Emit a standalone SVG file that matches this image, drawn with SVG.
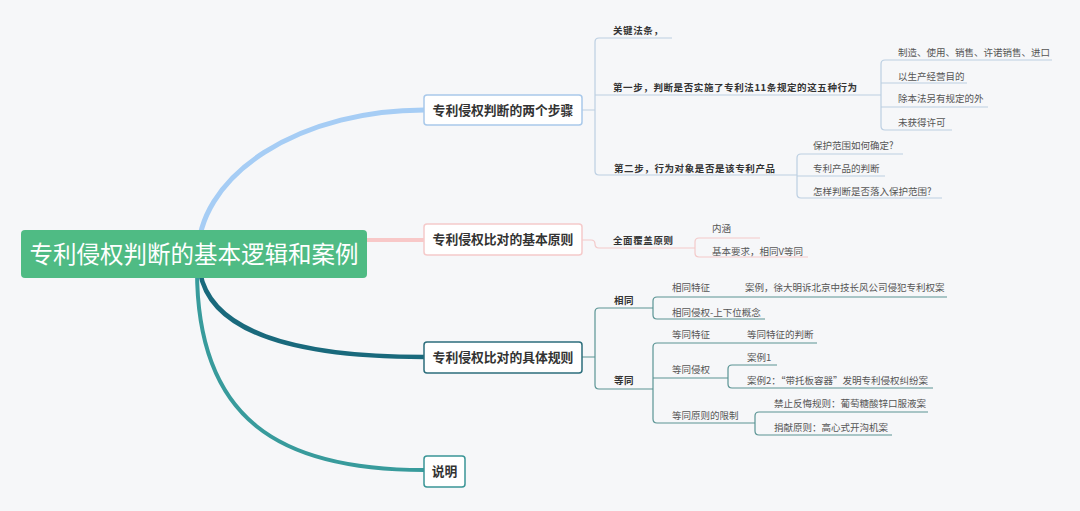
<svg xmlns="http://www.w3.org/2000/svg" width="1080" height="511" viewBox="0 0 1080 511">
<style>
.t2{font-family:"Noto Sans CJK SC","Noto Sans",sans-serif;font-size:9.5px;font-weight:bold;fill:#333;letter-spacing:0.6px}
.t3{font-family:"Noto Sans CJK SC","Noto Sans",sans-serif;font-size:9.5px;fill:#555}
.tb{font-family:"Noto Sans CJK SC","Noto Sans",sans-serif;font-size:12.8px;font-weight:bold;fill:#333;text-anchor:middle}
.c1{fill:none;stroke:#bccfe2;stroke-width:1.2}
.c2{fill:none;stroke:#f3caca;stroke-width:1.2}
.c3{fill:none;stroke:#5a9494;stroke-width:1.2}
</style>
<rect width="1080" height="511" fill="#f6f7f9"/>
<g id="connectors">
<path d="M198,255 A226,145 0 0 1 424,110" fill="none" stroke="#a6cdf5" stroke-width="5"/>
<path d="M360,240 H424" fill="none" stroke="#f8c8c8" stroke-width="4"/>
<path d="M200,272 C210,330 290,357 424,357" fill="none" stroke="#19697c" stroke-width="4.5"/>
<path d="M197,270 C197,420 280,470 424,470" fill="none" stroke="#389b9c" stroke-width="4"/>
<!-- branch 1 -->
<path class="c1" d="M582,110 H595 M672,38 H599 Q595,38 595,42 V171 Q595,175 599,175 H797 M595,95 H881"/>
<path class="c1" d="M1052,60 H885 Q881,60 881,64 V126 Q881,130 885,130 H952 M881,83 H967 M881,107 H988"/>
<path class="c1" d="M903,154 H801 Q797,154 797,158 V194 Q797,198 801,198 H942 M797,176 H885"/>
<!-- branch 2 -->
<path class="c2" d="M582,240 H591 Q595,240 595,244 Q595,248 599,248 H695"/>
<path class="c2" d="M760,238 H699 Q695,238 695,242 V253 Q695,257 699,257 H808"/>
<!-- branch 3 -->
<path class="c3" d="M582,357 H595 M653,308 H599 Q595,308 595,312 V385 Q595,389 599,389 H653"/>
<path class="c3" d="M947,297 H657 Q653,297 653,301 V315 Q653,319 657,319 H765"/>
<path class="c3" d="M817,343 H657 Q653,343 653,347 V419 Q653,423 657,423 H755 M653,378 H728"/>
<path class="c3" d="M777,365 H732 Q728,365 728,369 V384 Q728,388 732,388 H933"/>
<path class="c3" d="M928,412 H759 Q755,412 755,416 V431 Q755,435 759,435 H892"/>
</g>
<g id="root">
<rect x="21" y="230" width="346" height="48" rx="4" fill="#4fbb84"/>
<text x="194" y="263" font-family="Noto Sans CJK SC, Noto Sans, sans-serif" font-size="23.5" fill="#ffffff" text-anchor="middle">专利侵权判断的基本逻辑和案例</text>
</g>
<g id="b1">
<rect x="424" y="95" width="158" height="30" rx="3" fill="#ffffff" stroke="#a9c9ea" stroke-width="1.5"/>
<text class="tb" x="503" y="115">专利侵权判断的两个步骤</text>
</g>
<g id="b2">
<rect x="424" y="224" width="158" height="31" rx="3" fill="#ffffff" stroke="#f5caca" stroke-width="1.5"/>
<text class="tb" x="503" y="244">专利侵权比对的基本原则</text>
</g>
<g id="b3">
<rect x="424" y="342" width="158" height="31" rx="3" fill="#ffffff" stroke="#2c6e7c" stroke-width="1.5"/>
<text class="tb" x="503" y="362">专利侵权比对的具体规则</text>
</g>
<g id="b4">
<rect x="424" y="456" width="41" height="31" rx="3" fill="#ffffff" stroke="#3a9596" stroke-width="1.5"/>
<text class="tb" x="444.5" y="476">说明</text>
</g>
<g id="n-b1">
<text class="t2" x="613" y="34">关键法条，</text>
<text class="t2" x="613" y="91">第一步，判断是否实施了专利法11条规定的这五种行为</text>
<text class="t2" x="614" y="172">第二步，行为对象是否是该专利产品</text>
<text class="t3" x="898" y="55.5">制造、使用、销售、许诺销售、进口</text>
<text class="t3" x="898" y="79.5">以生产经营目的</text>
<text class="t3" x="898" y="101.5">除本法另有规定的外</text>
<text class="t3" x="898" y="125.5">未获得许可</text>
<text class="t3" x="813" y="148.5">保护范围如何确定?</text>
<text class="t3" x="813" y="171.5">专利产品的判断</text>
<text class="t3" x="813" y="194.5">怎样判断是否落入保护范围?</text>
</g>
<g id="n-b2">
<text class="t2" x="613" y="243.5">全面覆盖原则</text>
<text class="t3" x="712" y="231.5">内涵</text>
<text class="t3" x="712" y="254.5">基本要求，相同V等同</text>
</g>
<g id="n-b3">
<text class="t2" x="614" y="303.5">相同</text>
<text class="t3" x="672" y="290.5">相同特征</text>
<text class="t3" x="745" y="290.5">案例，徐大明诉北京中技长风公司侵犯专利权案</text>
<text class="t3" x="672" y="315.5">相同侵权-上下位概念</text>
<text class="t2" x="614" y="383.5">等同</text>
<text class="t3" x="672" y="337.5">等同特征</text>
<text class="t3" x="747" y="337.5">等同特征的判断</text>
<text class="t3" x="672" y="372.5">等同侵权</text>
<text class="t3" x="747" y="360.5">案例1</text>
<text class="t3" x="747" y="383.5">案例2：“带托板容器”发明专利侵权纠纷案</text>
<text class="t3" x="672" y="418.5">等同原则的限制</text>
<text class="t3" x="774" y="406.5">禁止反悔规则：葡萄糖酸锌口服液案</text>
<text class="t3" x="774" y="430.5">捐献原则：高心式开沟机案</text>
</g>
</svg>
